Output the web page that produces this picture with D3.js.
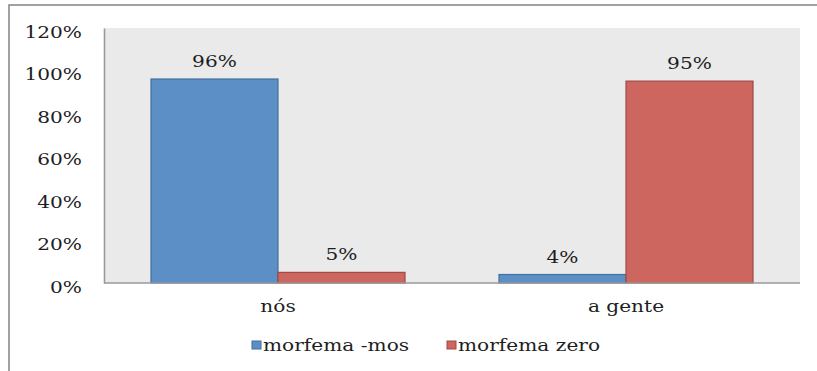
<!DOCTYPE html>
<html>
<head>
<meta charset="utf-8">
<script src="https://cdn.jsdelivr.net/npm/d3@7/dist/d3.min.js"></script>
<style>
  html, body { margin: 0; padding: 0; background: #ffffff; }
  svg { display: block; }
  text { font-family: "DejaVu Serif", serif; fill: #1e1e1e; }
</style>
</head>
<body>
<svg id="chart" width="817" height="371"></svg>
<script>
// Categories, series and values
const categories = ["nós", "a gente"];
const seriesNames = ["morfema -mos", "morfema zero"];
const seriesMos = [0.96, 0.04];
const seriesZero = [0.05, 0.95];
const yTicks = [0, 0.2, 0.4, 0.6, 0.8, 1.0, 1.2];
const seriesColors = ["#5B8FC5", "#CC665F"];
const seriesStrokes = ["#41719C", "#9E4A47"];

const values = [seriesMos, seriesZero];
const rows = categories.map((c, i) => ({
  category: c,
  items: seriesNames.map((s, j) => ({ series: s, value: values[j][i], idx: j }))
}));

const svg = d3.select("#chart");
const plot = { left: 104, right: 800, top: 28, bottom: 283 };
const fs = 16;    // font size
const sx = 1.26;  // horizontal text stretch

// Outer frame (right and bottom edges fall outside the view)
svg.append("rect")
  .attr("x", 9).attr("y", 5).attr("width", 830).attr("height", 400)
  .attr("fill", "none").attr("stroke", "#8a8a8a").attr("stroke-width", 1.6);

// Plot background
svg.append("rect")
  .attr("x", plot.left).attr("y", plot.top)
  .attr("width", plot.right - plot.left).attr("height", plot.bottom - plot.top)
  .attr("fill", "#EAEAEA");

const y = d3.scaleLinear().domain([0, 1.2]).range([plot.bottom, plot.top]);
const x0 = d3.scaleBand().domain(categories).range([plot.left, plot.right]).padding(0);
const x1 = d3.scaleBand().domain(seriesNames).range([0, x0.bandwidth()])
  .paddingInner(0).paddingOuter(0.37);

// Bars
const groups = svg.append("g").selectAll("g").data(rows).join("g")
  .attr("transform", d => `translate(${x0(d.category)},0)`);

groups.selectAll("rect").data(d => d.items).join("rect")
  .attr("x", d => x1(d.series))
  .attr("y", d => y(d.value))
  .attr("width", x1.bandwidth())
  .attr("height", d => y(0) - y(d.value))
  .attr("fill", d => seriesColors[d.idx])
  .attr("stroke", d => seriesStrokes[d.idx])
  .attr("stroke-width", 1.2);

// Value labels
groups.selectAll("text.val").data(d => d.items).join("text")
  .attr("class", "val")
  .attr("text-anchor", "middle")
  .attr("font-size", fs)
  .attr("transform", d => `translate(${x1(d.series) + x1.bandwidth() / 2},${y(d.value) - 12}) scale(${sx},1)`)
  .text(d => d3.format(".0%")(d.value));

// Y axis
const yAxis = svg.append("g")
  .attr("transform", `translate(${plot.left},0)`)
  .call(d3.axisLeft(y).tickValues(yTicks).tickFormat(d3.format(".0%")).tickSize(0).tickPadding(0));
yAxis.select(".domain").attr("stroke", "#9a9a9a").attr("stroke-width", 1.6);
yAxis.selectAll(".tick text")
  .attr("font-family", "DejaVu Serif, serif")
  .attr("font-size", fs)
  .attr("fill", "#1e1e1e")
  .attr("x", 0).attr("dy", null)
  .attr("transform", `translate(-22,9) scale(${sx},1)`);

// X axis line
svg.append("line")
  .attr("x1", plot.left).attr("x2", plot.right)
  .attr("y1", plot.bottom).attr("y2", plot.bottom)
  .attr("stroke", "#9a9a9a").attr("stroke-width", 1.6);

// Category labels
svg.append("g").selectAll("text").data(categories).join("text")
  .attr("text-anchor", "middle")
  .attr("font-size", fs)
  .attr("transform", d => `translate(${x0(d) + x0.bandwidth() / 2},${plot.bottom + 29}) scale(${sx},1)`)
  .text(d => d);

// Legend
const legendTextX = [263, 458];
const legend = svg.append("g").selectAll("g").data(seriesNames).join("g")
  .attr("transform", (d, i) => `translate(${legendTextX[i]},351)`);
legend.append("rect")
  .attr("x", -11).attr("y", -10)
  .attr("width", 9).attr("height", 8)
  .attr("fill", (d, i) => seriesColors[i])
  .attr("stroke", (d, i) => seriesStrokes[i]).attr("stroke-width", 1);
legend.append("text")
  .attr("font-size", fs)
  .attr("transform", `scale(${sx},1)`)
  .text(d => d);
</script>
</body>
</html>
